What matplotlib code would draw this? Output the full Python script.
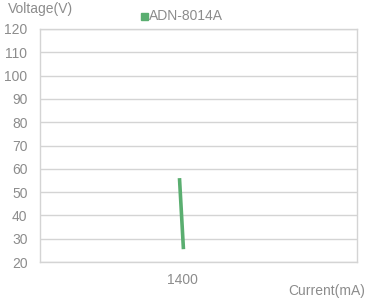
import matplotlib.pyplot as plt
from matplotlib.patches import Rectangle

plt.rcParams['font.family'] = ['Liberation Sans', 'DejaVu Sans']

# 读图得到的数据
current = [1398, 1400.5]
voltage = [56, 25.5]
series_name = 'ADN-8014A'
y_ticks = list(range(20, 121, 10))
x_tick = [1400]

grey = '#8c8c8c'
grid_c = '#d4d4d4'
green = '#5aae70'

fig = plt.figure(figsize=(3.66, 3.02), dpi=100)
ax = fig.add_axes([40/366, 40/302, 317/366, 233/302])

ax.plot(current, voltage, color=green, lw=2.6, solid_capstyle='butt')

ax.set_ylim(20, 120)
ax.set_xlim(1310, 1510)
ax.set_yticks(y_ticks)
ax.set_xticks(x_tick)
ax.yaxis.grid(True, color=grid_c, lw=1.0)
ax.set_axisbelow(True)
for s in ax.spines.values():
    s.set_color(grid_c)
    s.set_linewidth(1.0)
ax.tick_params(length=0, colors=grey, labelsize=10)
ax.tick_params(axis='y', pad=9)
ax.tick_params(axis='x', pad=8)

fig.text(8/366, 1 - 9/302, 'Voltage(V)', color=grey, fontsize=10, va='center', ha='left')
fig.text(365/366, 1 - 291/302, 'Current(mA)', color=grey, fontsize=10, va='center', ha='right')
# 图例小方块
fig.patches.append(Rectangle((141/366, 1 - 20/302), 7/366, 7/302,
                             transform=fig.transFigure, color=green))
fig.text(149/366, 1 - 16/302, series_name, color=grey, fontsize=10, va='center', ha='left')

fig.savefig('out.png', dpi=100)
